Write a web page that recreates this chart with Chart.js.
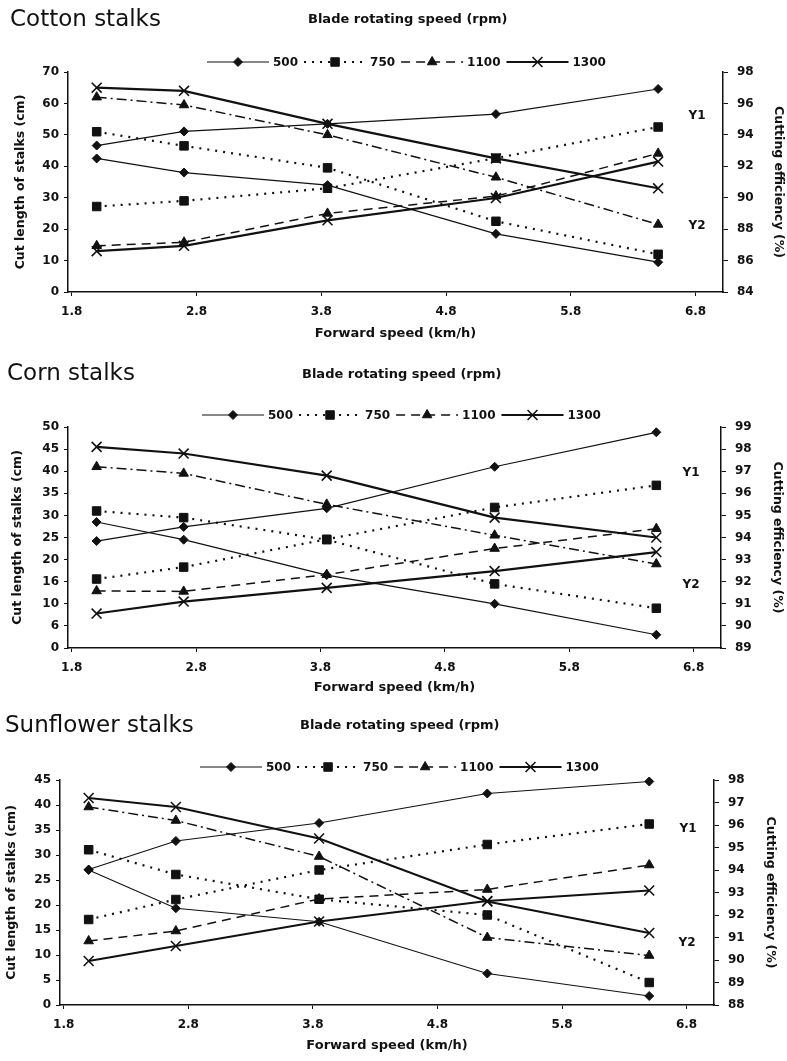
<!DOCTYPE html>
<html>
<head>
<meta charset="utf-8">
<title>Cut length and cutting efficiency vs forward speed</title>
<script src="https://cdn.jsdelivr.net/npm/chart.js@4.4.1/dist/chart.umd.min.js"></script>
<style>
  body { margin: 0; background: #fff; }
  #page { position: relative; width: 787px; height: 1061px; overflow: hidden; }
  canvas { position: absolute; left: 0; }
  .title { position: absolute; font: 23px/23px "DejaVu Sans", sans-serif; color: #111; white-space: nowrap; }
  .sub { position: absolute; font: bold 13px/13px "DejaVu Sans", sans-serif; color: #111; white-space: nowrap; }
  .yl { position: absolute; font: bold 12px/12px "DejaVu Sans", sans-serif; color: #111; transform: translate(-50%, -50%); }
</style>
</head>
<body>
<div id="page">
  <canvas id="cotton" width="787" height="345" style="top:0"></canvas>
  <canvas id="corn" width="787" height="355" style="top:345px"></canvas>
  <canvas id="sunflower" width="787" height="361" style="top:700px"></canvas>

  <div class="title" style="left:10px;top:7px">Cotton stalks</div>
  <div class="sub" style="left:308px;top:12px">Blade rotating speed (rpm)</div>
  <div class="yl" style="left:697px;top:115px">Y1</div>
  <div class="yl" style="left:697px;top:225px">Y2</div>

  <div class="title" style="left:7px;top:361px">Corn stalks</div>
  <div class="sub" style="left:302px;top:367px">Blade rotating speed (rpm)</div>
  <div class="yl" style="left:691px;top:472px">Y1</div>
  <div class="yl" style="left:691px;top:584px">Y2</div>

  <div class="title" style="left:5px;top:713px">Sunflower stalks</div>
  <div class="sub" style="left:300px;top:718px">Blade rotating speed (rpm)</div>
  <div class="yl" style="left:688px;top:828px">Y1</div>
  <div class="yl" style="left:687px;top:942px">Y2</div>
</div>

<script>
// Forward speed (km/h) where the measurements were taken
const forwardSpeed = [2.0, 2.7, 3.85, 5.2, 6.5];
const bladeSpeeds = ["500", "750", "1100", "1300"];
const speedTicks = [1.8, 2.8, 3.8, 4.8, 5.8, 6.8];

// Y1: cut length of stalks (cm), one row per blade speed (500, 750, 1100, 1300)
const cottonLength = [
    [46.6, 51.1, 53.5, 56.6, 64.6],
    [27.2, 29.0, 33.0, 42.6, 52.5],
    [14.7, 15.8, 25.0, 30.5, 44.1],
    [13.0, 14.7, 22.8, 29.9, 41.5]
];
// Y2: cutting efficiency (%)
const cottonEfficiency = [
    [92.5, 91.6, 90.8, 87.7, 85.9],
    [94.2, 93.3, 91.9, 88.5, 86.4],
    [96.4, 95.9, 94.0, 91.3, 88.3],
    [97.0, 96.8, 94.7, 92.5, 90.6]
];

const cornLength = [
    [24.2, 27.4, 31.6, 41.0, 48.8],
    [15.6, 18.3, 24.6, 31.8, 36.8],
    [12.9, 12.8, 16.6, 22.5, 27.0],
    [7.8, 10.5, 13.6, 17.4, 21.7]
];
const cornEfficiency = [
    [94.7, 93.9, 92.3, 91.0, 89.6],
    [95.2, 94.9, 93.9, 91.9, 90.8],
    [97.2, 96.9, 95.5, 94.1, 92.8],
    [98.1, 97.8, 96.8, 94.9, 94.0]
];

const sunflowerLength = [
    [27.1, 32.8, 36.4, 42.3, 44.7],
    [17.1, 21.1, 27.0, 32.1, 36.2],
    [12.8, 14.8, 21.2, 23.1, 28.0],
    [8.8, 11.8, 16.7, 20.8, 22.9]
];
const sunflowerEfficiency = [
    [94.0, 92.3, 91.7, 89.4, 88.4],
    [94.9, 93.8, 92.7, 92.0, 89.0],
    [96.8, 96.2, 94.6, 91.0, 90.2],
    [97.2, 96.8, 95.4, 92.6, 91.2]
];

// tick values (and the labels as they are printed)
const cottonLengthTicks = [0, 10, 20, 30, 40, 50, 60, 70];
const cottonEffTicks = [84, 86, 88, 90, 92, 94, 96, 98];
const cornLengthTicks = [0, 5, 10, 15, 20, 25, 30, 35, 40, 45, 50];
const cornLengthLabels = ["0", "6", "10", "16", "20", "25", "30", "35", "40", "45", "50"];
const cornEffTicks = [89, 90, 91, 92, 93, 94, 95, 96, 97, 98, 99];
const sunflowerLengthTicks = [0, 5, 10, 15, 20, 25, 30, 35, 40, 45];
const sunflowerEffTicks = [88, 89, 90, 91, 92, 93, 94, 95, 96, 97, 98];

const ink = "#111";
const fontFamily = '"DejaVu Sans", sans-serif';

// line look for each blade speed
const lineStyles = [
    { pointStyle: "rectRot", radius: 4.5, width: 1.2, dash: [] },
    { pointStyle: "rect", radius: 6, width: 2.2, dash: [2, 6] },
    { pointStyle: "triangle", radius: 5.5, width: 1.5, dash: [9, 6], effDash: [10, 4, 2, 4] },
    { pointStyle: "crossRot", radius: 7, width: 2.2, dash: [] }
];

Chart.defaults.font.family = fontFamily;
Chart.defaults.color = ink;

// legend "——◆——500 - -■- -750 ..." drawn above the plot
const lineLegend = {
    id: "lineLegend",
    afterDraw(chart, args, opts) {
        const ctx = chart.ctx;
        let x = opts.x;
        const y = opts.y;
        ctx.save();
        ctx.font = "bold 12px " + fontFamily;
        ctx.textBaseline = "middle";
        chart.data.datasets.slice(0, 4).forEach(ds => {
            ctx.strokeStyle = ink;
            ctx.lineWidth = ds.borderWidth;
            ctx.setLineDash(ds.borderDash);
            ctx.beginPath();
            ctx.moveTo(x, y);
            ctx.lineTo(x + 62, y);
            ctx.stroke();
            ctx.setLineDash([]);
            ctx.fillStyle = ink;
            ctx.lineWidth = ds.pointBorderWidth;
            Chart.helpers.drawPoint(ctx, {
                pointStyle: ds.pointStyle,
                radius: ds.pointRadius,
                borderWidth: ds.pointBorderWidth
            }, x + 31, y);
            ctx.fillStyle = ink;
            ctx.fillText(ds.label, x + 66, y + 1);
            x += 66 + ctx.measureText(ds.label).width + 6;
        });
        ctx.restore();
    }
};

function makeSet(label, values, axis, st, dash) {
    return {
        label: label,
        data: forwardSpeed.map((s, i) => ({ x: s, y: values[i] })),
        yAxisID: axis,
        borderColor: ink,
        borderWidth: st.width,
        borderDash: dash,
        pointStyle: st.pointStyle,
        pointRadius: st.radius,
        pointBackgroundColor: ink,
        pointBorderColor: ink,
        pointBorderWidth: st.pointStyle === "crossRot" ? 1.6 : 1,
        tension: 0,
        fill: false,
        clip: false
    };
}

function fixedTicks(values) {
    return scale => { scale.ticks = values.map(v => ({ value: v })); };
}

function drawPanel(p) {
    const datasets = [];
    bladeSpeeds.forEach((rpm, k) => datasets.push(makeSet(rpm, p.length[k], "y", lineStyles[k], lineStyles[k].dash)));
    bladeSpeeds.forEach((rpm, k) => datasets.push(makeSet(rpm, p.efficiency[k], "y1", lineStyles[k], lineStyles[k].effDash || lineStyles[k].dash)));

    const tickFont = { size: 12, weight: "bold" };
    const titleFont = { size: 12.5, weight: "bold" };
    const lengthLabels = p.lengthLabels || p.lengthTicks.map(String);

    new Chart(document.getElementById(p.id), {
        type: "line",
        data: { datasets: datasets },
        options: {
            responsive: false,
            animation: false,
            layout: { padding: { top: p.padTop, left: 0, right: 0, bottom: 0 } },
            plugins: {
                legend: { display: false },
                tooltip: { enabled: false },
                lineLegend: p.legend
            },
            scales: {
                x: {
                    type: "linear",
                    min: 1.77,
                    max: 7.02,
                    afterBuildTicks: fixedTicks(speedTicks),
                    afterFit: s => { s.height = p.bottomH; },
                    grid: { drawOnChartArea: false, color: ink, tickLength: 4 },
                    border: { color: ink, width: 1.5 },
                    ticks: { font: tickFont, padding: 9, maxRotation: 0, callback: v => v.toFixed(1) },
                    title: { display: true, text: "Forward speed (km/h)", font: { size: 13, weight: "bold" }, padding: { top: 0, bottom: p.xTitlePad } }
                },
                y: {
                    position: "left",
                    min: p.lengthTicks[0],
                    max: p.lengthTicks[p.lengthTicks.length - 1],
                    afterBuildTicks: fixedTicks(p.lengthTicks),
                    afterFit: s => { s.width = p.leftW; },
                    grid: { drawOnChartArea: false, color: ink, tickLength: 4 },
                    border: { color: ink, width: 1.5 },
                    ticks: { font: tickFont, padding: 5, callback: (v, i) => lengthLabels[i] },
                    title: { display: true, text: "Cut length of stalks (cm)", font: titleFont, padding: { top: p.yTitlePad, bottom: 0 } }
                },
                y1: {
                    position: "right",
                    min: p.effTicks[0],
                    max: p.effTicks[p.effTicks.length - 1],
                    afterBuildTicks: fixedTicks(p.effTicks),
                    afterFit: s => { s.width = p.rightW; },
                    grid: { drawOnChartArea: false, color: ink, tickLength: 5 },
                    border: { color: ink, width: 1.5 },
                    ticks: { font: tickFont, padding: 9 },
                    title: { display: true, text: "Cutting efficiency (%)", font: titleFont, padding: { top: p.y1TitlePad, bottom: 0 } }
                }
            }
        },
        plugins: [lineLegend]
    });
}

drawPanel({
    id: "cotton", length: cottonLength, efficiency: cottonEfficiency,
    lengthTicks: cottonLengthTicks, effTicks: cottonEffTicks,
    padTop: 72, leftW: 68, rightW: 64, bottomH: 53,
    xTitlePad: 4, yTitlePad: 13, y1TitlePad: 1.5,
    legend: { x: 207, y: 62 }
});

drawPanel({
    id: "corn", length: cornLength, efficiency: cornEfficiency,
    lengthTicks: cornLengthTicks, lengthLabels: cornLengthLabels, effTicks: cornEffTicks,
    padTop: 82, leftW: 68, rightW: 66, bottomH: 52,
    xTitlePad: 5, yTitlePad: 10.5, y1TitlePad: 2.5,
    legend: { x: 202, y: 70 }
});

drawPanel({
    id: "sunflower", length: sunflowerLength, efficiency: sunflowerEfficiency,
    lengthTicks: sunflowerLengthTicks, effTicks: sunflowerEffTicks,
    padTop: 80, leftW: 60, rightW: 73, bottomH: 56,
    xTitlePad: 8, yTitlePad: 4.5, y1TitlePad: 9.5,
    legend: { x: 200, y: 67 }
});
</script>
</body>
</html>
